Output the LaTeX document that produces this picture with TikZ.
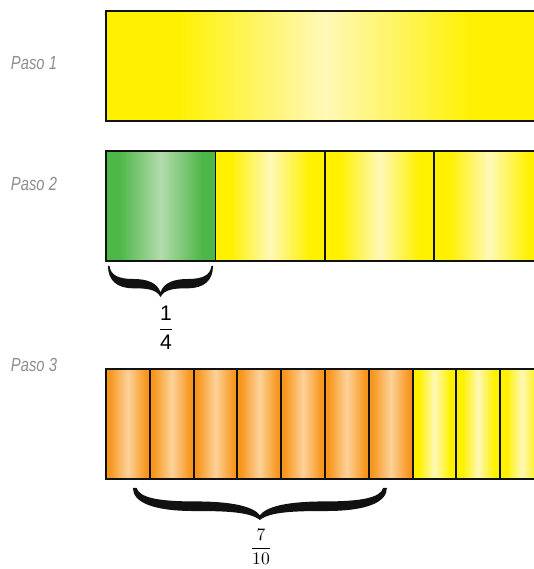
\documentclass[tikz,border=0pt]{standalone}
\usepackage{amsmath}
\usepackage{fontspec}
\setsansfont{Liberation Sans}
\newfontfamily\pasofont[FakeStretch=0.78]{Liberation Sans}
\usetikzlibrary{positioning,calc}
\definecolor{ink}{HTML}{111111}
\definecolor{pasogray}{HTML}{8E8E8E}
\definecolor{yellowedge}{HTML}{FFF100}
\definecolor{yellowlight}{HTML}{FFF8B8}
\definecolor{greenedge}{HTML}{4DB748}
\definecolor{greenlight}{HTML}{B3DBAC}
\definecolor{orangeedge}{HTML}{F7961D}
\definecolor{orangelight}{HTML}{FDD29A}
\pgfdeclarehorizontalshading{yellowwide}{100bp}{color(0bp)=(yellowedge); color(33bp)=(yellowedge); color(50bp)=(yellowlight); color(67bp)=(yellowedge); color(100bp)=(yellowedge)}
\pgfdeclarehorizontalshading{yellowband}{100bp}{color(0bp)=(yellowedge); color(32bp)=(yellowedge); color(50bp)=(yellowlight); color(68bp)=(yellowedge); color(100bp)=(yellowedge)}
\pgfdeclarehorizontalshading{greenband}{100bp}{color(0bp)=(greenedge); color(31bp)=(greenedge); color(50bp)=(greenlight); color(69bp)=(greenedge); color(100bp)=(greenedge)}
\pgfdeclarehorizontalshading{orangeband}{100bp}{color(0bp)=(orangeedge); color(29bp)=(orangeedge); color(50bp)=(orangelight); color(71bp)=(orangeedge); color(100bp)=(orangeedge)}

\begin{document}
\begin{tikzpicture}[
  x=0.02cm, y=0.02cm,
  every node/.style={font=\small},
  strip/.style={draw=ink, line width=1.1pt, inner sep=0pt, outer sep=0pt, minimum height=2.2cm},
  paso/.style={font=\pasofont\itshape\fontsize{10.8}{12}\selectfont, text=pasogray},
  frac/.style={font=\large},
  curly/.pic={
    \fill[ink] (0,0) .. controls (0,-0.45) and (0.08,-0.72) .. (0.24,-0.72)
      .. controls (0.36,-0.72) and (0.46,-0.74) .. (0.5,-1)
      .. controls (0.54,-0.74) and (0.64,-0.72) .. (0.76,-0.72)
      .. controls (0.92,-0.72) and (1,-0.45) .. (1,0)
      -- (0.985,0) .. controls (0.975,-0.3) and (0.9,-0.42) .. (0.76,-0.42)
      .. controls (0.62,-0.42) and (0.53,-0.55) .. (0.5,-0.85)
      .. controls (0.47,-0.55) and (0.38,-0.42) .. (0.24,-0.42)
      .. controls (0.1,-0.42) and (0.025,-0.3) .. (0.015,0) -- cycle;
  }
]
\useasboundingbox (0,0) rectangle (534,569);
\clip (0,0) rectangle (534,569);

% Paso 1
\node[paso] (paso1) at (34,506) {Paso 1};
\node[strip, minimum width=8.76cm, shading=yellowwide, anchor=north west] (whole) at (106,558) {};

% Paso 2
\node[paso] (paso2) at (34,385.5) {Paso 2};
\node[strip, minimum width=2.19cm, shading=greenband, anchor=north west] (q1) at (106,418) {};
\foreach \i [count=\j from 2] in {1,2,3}
  \node[strip, minimum width=2.19cm, shading=yellowband, right=0pt of q\i] (q\j) {};
\pic[xscale=105, yscale=31] (brace1) at ($(q1.south west)+(2,-5)$) {curly};
\node[frac] (quarter) at (166,241) {$\dfrac{\textsf{1}}{\textsf{4}}$};

% Paso 3
\node[paso] (paso3) at (34,204) {Paso 3};
\node[strip, minimum width=0.876cm, shading=orangeband, anchor=north west] (t1) at (106,200) {};
\foreach \i [count=\j from 2] in {1,...,6}
  \node[strip, minimum width=0.876cm, shading=orangeband, right=0pt of t\i] (t\j) {};
\foreach \i [count=\j from 8] in {7,8,9}
  \node[strip, minimum width=0.876cm, shading=yellowband, right=0pt of t\i] (t\j) {};
\pic[xscale=254, yscale=32] (brace2) at ($(t1.south)+(5,-9)$) {curly};
\node[font=\normalsize, inner sep=0pt, anchor=north] (seventenths) at (261,40) {$\dfrac{7}{10}$};
\end{tikzpicture}
\end{document}
